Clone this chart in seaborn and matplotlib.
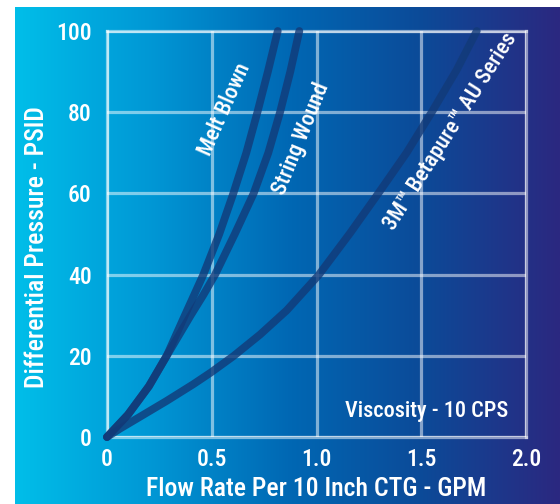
import numpy as np
import pandas as pd
import matplotlib
matplotlib.use("Agg")
import matplotlib.pyplot as plt
from matplotlib.colors import LinearSegmentedColormap
import seaborn as sns

# flow rate (GPM) vs differential pressure (PSID)
melt_x = [0, 0.10, 0.20, 0.285, 0.372, 0.46, 0.536, 0.603, 0.665, 0.718, 0.768, 0.815]
melt_y = [0, 5.5, 12.5, 20, 30, 40, 50, 60, 70, 80, 90, 100]

string_x = [0, 0.10, 0.20, 0.285, 0.40, 0.46, 0.516, 0.61, 0.70, 0.77, 0.826, 0.875, 0.918]
string_y = [0, 5.5, 12.5, 20, 30, 35, 40, 50, 60, 70, 80, 90, 100]

beta_x = [0, 0.06, 0.158, 0.285, 0.412, 0.496, 0.603, 0.73, 0.858, 1.009,
          1.16, 1.295, 1.43, 1.55, 1.669, 1.765]
beta_y = [0, 2.0, 5, 8.9, 13.0, 15.9, 19.9, 25.2, 31.2, 39.8,
          50.2, 60, 70, 80, 90.4, 100]

x_ticks = [0, 0.5, 1.0, 1.5, 2.0]
x_ticklabels = ["0", "0.5", "1.0", "1.5", "2.0"]
y_ticks = [0, 20, 40, 60, 80, 100]

curve_labels = ["Melt Blown", "String Wound", "3M\u2122 Betapure\u2122 AU Series"]

plt.rcParams['font.family'] = ['Liberation Sans Narrow', 'Roboto Condensed', 'DejaVu Sans']
plt.rcParams['font.stretch'] = 'condensed'
plt.rcParams['font.weight'] = 500
plt.rcParams['axes.labelweight'] = 500

fig = plt.figure(figsize=(5.6, 5.04), dpi=100)

# gradient panel behind the chart
bg = fig.add_axes([15 / 560, 0, 1 - 15 / 560, 1 - 7 / 504], zorder=-1)
grad_cmap = LinearSegmentedColormap.from_list(
    "bg", ["#00bee9", "#0097d5", "#0068b4", "#0c4a98", "#2b2880"])
bg.imshow(np.linspace(0, 1, 256)[None, :], aspect="auto", cmap=grad_cmap,
          extent=[0, 1, 0, 1])
bg.set_axis_off()

ax = fig.add_axes([107 / 560, 67 / 504, 419 / 560, 406 / 504])
ax.set_facecolor("none")

line_col = "#123a78"
for xs, ys in [(melt_x, melt_y), (string_x, string_y), (beta_x, beta_y)]:
    df = pd.DataFrame({"x": xs, "y": ys})
    sns.lineplot(df, x="x", y="y", sort=False, estimator=None, ax=ax,
                 color=line_col, alpha=0.8, linewidth=5.6,
                 solid_capstyle="round", solid_joinstyle="round",
                 clip_on=False, zorder=3)

ax.set_xlim(0, 2)
ax.set_ylim(0, 100)
ax.set_xticks(x_ticks)
ax.set_xticklabels(x_ticklabels)
ax.set_yticks(y_ticks)
ax.grid(True, color="white", alpha=0.5, linewidth=2.3)
ax.set_axisbelow(True)
for s in ax.spines.values():
    s.set_color((1, 1, 1, 0.5))
    s.set_linewidth(2.3)
ax.tick_params(length=0, colors="white", labelsize=17, pad=11)
ax.tick_params(axis="x", pad=8)

ax.set_xlabel("Flow Rate Per 10 Inch CTG - GPM", color="white", fontsize=18.5, labelpad=4)
ax.set_ylabel("Differential Pressure - PSID", color="white", fontsize=18.5)
ax.yaxis.set_label_coords(-0.138, 0.469)

txt = dict(color="white", fontsize=16, ha="center", va="center", rotation_mode="anchor")
ax.text(0.56, 80.8, curve_labels[0], rotation=66, **txt)
ax.text(0.924, 73.5, curve_labels[1], rotation=68, **txt)
ax.text(1.637, 75.4, curve_labels[2], rotation=57.5, **txt)
ax.text(1.914, 6.4, "Viscosity - 10 CPS", color="white", fontsize=16, ha="right", va="center")

fig.savefig("out.png", dpi=100)
